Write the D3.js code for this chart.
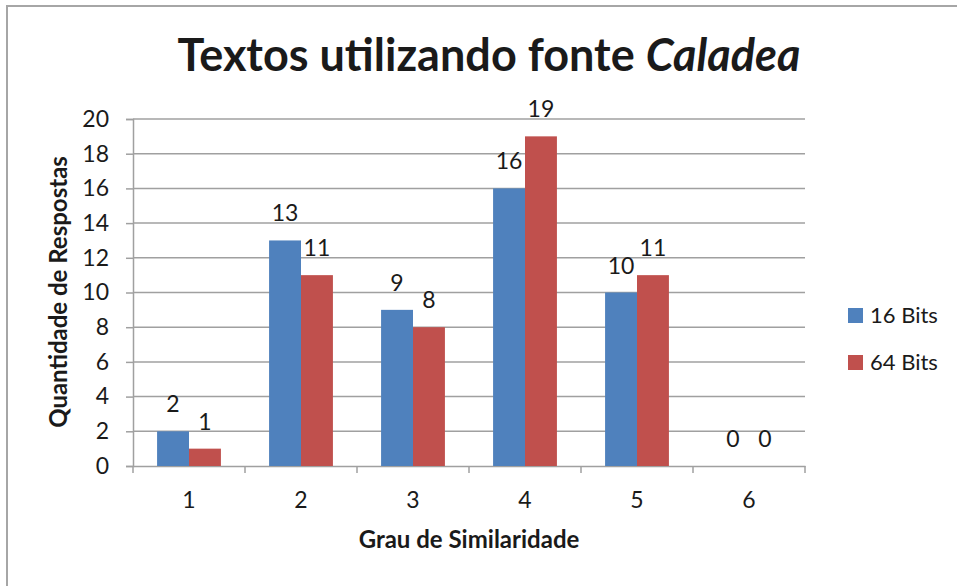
<!DOCTYPE html>
<html>
<head>
<meta charset="utf-8">
<script src="https://cdn.jsdelivr.net/npm/d3@7"></script>
<style>
body { margin: 0; background: #fff; }
text { font-family: Lato, "Open Sans", sans-serif; fill: #1a1a1a; }
</style>
</head>
<body>
<div id="chart"></div>
<script>
// chart values
var categories = ['1', '2', '3', '4', '5', '6'];
var seriesNames = ['16 Bits', '64 Bits'];
var bits16 = [2, 13, 9, 16, 10, 0];
var bits64 = [1, 11, 8, 19, 11, 0];
var yTicks = [0, 2, 4, 6, 8, 10, 12, 14, 16, 18, 20];
var colors = ['#4f81bd', '#c0504d'];

var width = 957, height = 586;
var svg = d3.select('#chart').append('svg').attr('width', width).attr('height', height);

// outer frame (only top and left edges visible)
svg.append('path').attr('d', 'M7,586V6H957').attr('fill', 'none').attr('stroke', '#a6a6a6').attr('stroke-width', 2);

var plotL = 133, plotR = 805, plotT = 119, plotB = 466;

var x0 = d3.scaleBand().domain(categories).range([plotL, plotR]).padding(0);
var x1 = d3.scaleBand().domain(seriesNames).range([x0.bandwidth() * 0.215, x0.bandwidth() * 0.785]);
var y = d3.scaleLinear().domain([0, 20]).range([plotB, plotT]);

// gridlines
svg.append('g').selectAll('line').data(yTicks.slice(1)).enter().append('line')
    .attr('x1', plotL).attr('x2', plotR)
    .attr('y1', d => y(d)).attr('y2', d => y(d))
    .attr('stroke', '#a0a0a0').attr('stroke-width', 1.5);

// y axis
var yAxis = svg.append('g').attr('transform', `translate(${plotL},0)`)
    .call(d3.axisLeft(y).tickValues(yTicks).tickSize(7).tickPadding(17));
yAxis.select('.domain').attr('stroke', '#a0a0a0').attr('stroke-width', 1.5);
yAxis.selectAll('.tick line').attr('stroke', '#a0a0a0').attr('stroke-width', 1.5);
yAxis.selectAll('.tick text').style('font-size', '23px').attr('fill', '#1a1a1a');

// x axis
var xAxis = svg.append('g').attr('transform', `translate(0,${plotB})`)
    .call(d3.axisBottom(x0).tickSize(0).tickPadding(26));
xAxis.select('.domain').attr('stroke', '#a0a0a0').attr('stroke-width', 1.5);
xAxis.selectAll('.tick text').style('font-size', '23px').attr('fill', '#1a1a1a');
xAxis.selectAll('.cattick').data(categories.concat(['end'])).enter().append('line')
    .attr('x1', (d, i) => plotL + i * x0.step()).attr('x2', (d, i) => plotL + i * x0.step())
    .attr('y1', 0).attr('y2', 7)
    .attr('stroke', '#a0a0a0').attr('stroke-width', 1.5);

// bars
var rows = categories.map((c, i) => ({cat: c, vals: [bits16[i], bits64[i]]}));
var groups = svg.append('g').selectAll('g').data(rows).enter().append('g')
    .attr('transform', d => `translate(${x0(d.cat)},0)`);

groups.selectAll('rect').data(d => d.vals.map((v, j) => ({key: seriesNames[j], v: v, j: j}))).enter().append('rect')
    .attr('x', d => x1(d.key)).attr('width', x1.bandwidth())
    .attr('y', d => y(d.v)).attr('height', d => plotB - y(d.v))
    .attr('fill', d => colors[d.j]);

groups.selectAll('.lbl').data(d => d.vals.map((v, j) => ({key: seriesNames[j], v: v, j: j}))).enter().append('text')
    .attr('class', 'lbl')
    .attr('x', d => x1(d.key) + x1.bandwidth() / 2)
    .attr('y', d => y(d.v) - 19)
    .attr('text-anchor', 'middle')
    .style('font-size', '23px')
    .text(d => d.v);

// title
var title = svg.append('text').attr('x', 489).attr('y', 71).attr('text-anchor', 'middle')
    .style('font-size', '45px').style('font-weight', 'bold');
title.append('tspan').text('Textos utilizando fonte ');
title.append('tspan').style('font-style', 'italic').text('Caladea');

// axis titles
svg.append('text').attr('x', 469).attr('y', 548).attr('text-anchor', 'middle')
    .style('font-size', '24px').style('font-weight', 'bold').text('Grau de Similaridade');
svg.append('text').attr('transform', 'translate(67,292) rotate(-90)').attr('text-anchor', 'middle')
    .style('font-size', '24px').style('font-weight', 'bold').text('Quantidade de Respostas');

// legend
var legend = svg.append('g').selectAll('g').data(seriesNames).enter().append('g')
    .attr('transform', (d, i) => `translate(848,${308 + i * 47})`);
legend.append('rect').attr('width', 15).attr('height', 15).attr('fill', (d, i) => colors[i]);
legend.append('text').attr('x', 22).attr('y', 15).style('font-size', '22px').text(d => d);
</script>
</body>
</html>
